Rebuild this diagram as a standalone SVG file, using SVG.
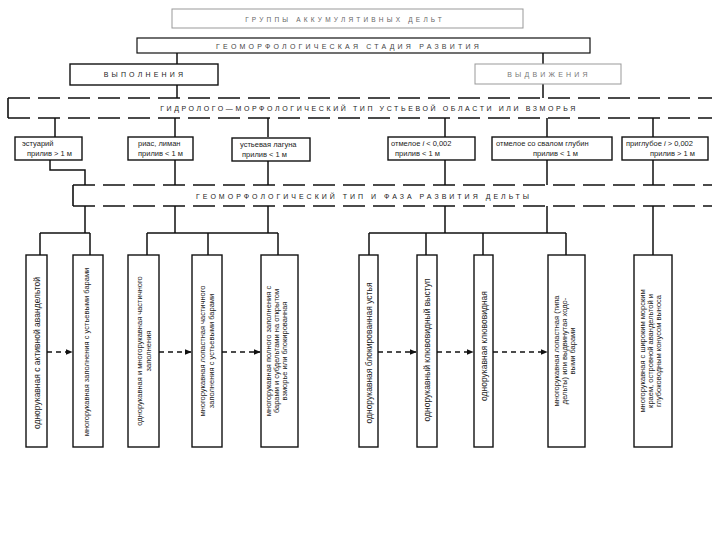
<svg xmlns="http://www.w3.org/2000/svg" width="720" height="540" viewBox="0 0 720 540">
<style>
text{font-family:"Liberation Sans","DejaVu Sans",sans-serif;fill:#222}
.hd{font-size:7px;letter-spacing:3.2px;text-anchor:middle}
.sm{font-size:7.5px}
.vt{font-size:7.5px;text-anchor:middle}
.v1{font-size:8.5px}
.box{fill:#fff;stroke:#111;stroke-width:1.4}
.faint{fill:#fff;stroke:#999;stroke-width:1}
.band{fill:none;stroke:#111;stroke-width:1.6;stroke-dasharray:22 8}
.ln{fill:none;stroke:#111;stroke-width:1.5}
.ar{fill:none;stroke:#111;stroke-width:1.5;stroke-dasharray:5 4;marker-end:url(#ah)}
</style>
<defs>
<marker id="ah" viewBox="0 0 10 10" refX="9" refY="5" markerWidth="7" markerHeight="7" markerUnits="userSpaceOnUse" orient="auto">
<path d="M0,1 L10,5 L0,9 Z" fill="#111"/>
</marker>
</defs>
<rect width="720" height="540" fill="#fff"/>

<g id="connectors">
<path class="ln" d="M177,53V64M543,53V64M177,85V98M543,84V98"/>
<path class="ln" d="M55,118V137M175,118V137M268,118V137M445,118V137M547,118V137M653,118V137"/>
<path class="ln" d="M50,160V170H85V185M175,160V185M268,160V185M445,160V185M547,160V185M653,160V185"/>
<path class="ln" d="M85,206V233M175,206V233M268,206V233M445,206V233M547,206V233M653,206V255"/>
<path class="ln" d="M40,233H90M147,233H278M369,233H566"/>
<path class="ln" d="M40,233V255M90,233V255M147,233V255M208,233V255M278,233V255M369,233V255M426,233V255M483,233V255M566,233V255"/>
<path class="ar" d="M47,352H72"/>
<path class="ar" d="M159,352H191"/>
<path class="ar" d="M222,352H260"/>
<path class="ar" d="M378,352H416"/>
<path class="ar" d="M437,352H473"/>
<path class="ar" d="M493,352H547"/>
</g>

<g id="title">
<rect class="faint" x="172" y="9" width="351" height="19"/>
<text class="hd" x="345" y="21.5" style="fill:#666;font-size:6.5px">ГРУППЫ АККУМУЛЯТИВНЫХ ДЕЛЬТ</text>
</g>
<g id="stage">
<rect class="box" x="137" y="38" width="453" height="15" style="stroke-width:1.2"/>
<text class="hd" x="349" y="48.5" style="fill:#444">ГЕОМОРФОЛОГИЧЕСКАЯ СТАДИЯ РАЗВИТИЯ</text>
</g>
<g id="vypolneniya">
<rect class="box" x="70" y="64" width="148" height="21"/>
<text class="hd" x="145" y="77">ВЫПОЛНЕНИЯ</text>
</g>
<g id="vydvizheniya">
<rect class="faint" x="475" y="64" width="146" height="20"/>
<text class="hd" x="549" y="77" style="fill:#777">ВЫДВИЖЕНИЯ</text>
</g>
<g id="band1">
<path class="band" d="M8,98H712M8,118H712M8,98V118"/>
<text class="hd" x="369" y="111" style="letter-spacing:2.6px">ГИДРОЛОГО—МОРФОЛОГИЧЕСКИЙ ТИП УСТЬЕВОЙ ОБЛАСТИ ИЛИ ВЗМОРЬЯ</text>
</g>

<g id="b1"><rect class="box" x="15" y="137" width="67" height="23"/>
<text class="sm" x="22" y="146">эстуарий</text><text class="sm" x="27" y="156">прилив &gt; 1 м</text></g>
<g id="b2"><rect class="box" x="128" y="137" width="65" height="23"/>
<text class="sm" x="138" y="146">риас, лиман</text><text class="sm" x="138" y="156">прилив &lt; 1 м</text></g>
<g id="b3"><rect class="box" x="232" y="138" width="78" height="23"/>
<text class="sm" x="240" y="147">устьевая лагуна</text><text class="sm" x="242" y="157">прилив &lt; 1 м</text></g>
<g id="b4"><rect class="box" x="388" y="137" width="87" height="23"/>
<text class="sm" x="391" y="146">отмелое <tspan font-style="italic">i</tspan> &lt; 0,002</text><text class="sm" x="395" y="156">прилив &lt; 1 м</text></g>
<g id="b5"><rect class="box" x="492" y="137" width="120" height="23"/>
<text class="sm" x="496" y="146">отмелое со свалом глубин</text><text class="sm" x="533" y="156">прилив &lt; 1 м</text></g>
<g id="b6"><rect class="box" x="622" y="137" width="86" height="23"/>
<text class="sm" x="626" y="146">приглубое <tspan font-style="italic">i</tspan> &gt; 0,002</text><text class="sm" x="650" y="156">прилив &gt; 1 м</text></g>

<g id="band2">
<path class="band" d="M73,185H712M73,206H712M73,185V206"/>
<text class="hd" x="364" y="199" style="letter-spacing:3px">ГЕОМОРФОЛОГИЧЕСКИЙ ТИП И ФАЗА РАЗВИТИЯ ДЕЛЬТЫ</text>
</g>

<g id="dA"><rect class="box" x="26" y="255" width="21" height="192"/>
<text class="vt v1" transform="translate(39.5,353) rotate(-90)">однорукавная с активной авандельтой</text></g>
<g id="dB"><rect class="box" x="73" y="255" width="30" height="192"/>
<text class="vt" transform="translate(89,352) rotate(-90)">многорукавная заполнения с устьевыми барами</text></g>
<g id="dC"><rect class="box" x="128" y="255" width="31" height="192"/>
<text class="vt" transform="translate(142,351) rotate(-90)"><tspan x="0">однорукавная и многорукавная частичного</tspan><tspan x="0" dy="9">заполнения</tspan></text></g>
<g id="dD"><rect class="box" x="192" y="255" width="30" height="192"/>
<text class="vt" transform="translate(205,351) rotate(-90)"><tspan x="0">многорукавная лопастная частичного</tspan><tspan x="0" dy="8.5">заполнения с устьевыми барами</tspan></text></g>
<g id="dE"><rect class="box" x="261" y="255" width="37" height="192"/>
<text class="vt" transform="translate(271,351) rotate(-90)"><tspan x="0">многорукавная полного заполнения с</tspan><tspan x="0" dy="8">барами и субдельтами на открытом</tspan><tspan x="0" dy="8">взморье или блокированная</tspan></text></g>
<g id="dF"><rect class="box" x="359" y="255" width="19" height="192"/>
<text class="vt v1" transform="translate(371.5,353) rotate(-90)">однорукавная блокированная устья</text></g>
<g id="dG"><rect class="box" x="417" y="255" width="20" height="192"/>
<text class="vt v1" transform="translate(430,350) rotate(-90)">однорукавный клювовидный выступ</text></g>
<g id="dH"><rect class="box" x="474" y="255" width="19" height="192"/>
<text class="vt v1" transform="translate(486.5,346) rotate(-90)">однорукавная клювовидная</text></g>
<g id="dI"><rect class="box" x="548" y="255" width="37" height="192"/>
<text class="vt" transform="translate(559,351) rotate(-90)"><tspan x="0">многорукавная лопастная (типа</tspan><tspan x="0" dy="8">дельты) или выдвинутая ходо-</tspan><tspan x="0" dy="8">выми барами</tspan></text></g>
<g id="dJ"><rect class="box" x="634" y="255" width="38" height="192"/>
<text class="vt" transform="translate(645,351) rotate(-90)"><tspan x="0">многорукавная с широким морским</tspan><tspan x="0" dy="8">краем, островной авандельтой и</tspan><tspan x="0" dy="8">глубоководным конусом выноса</tspan></text></g>
</svg>
